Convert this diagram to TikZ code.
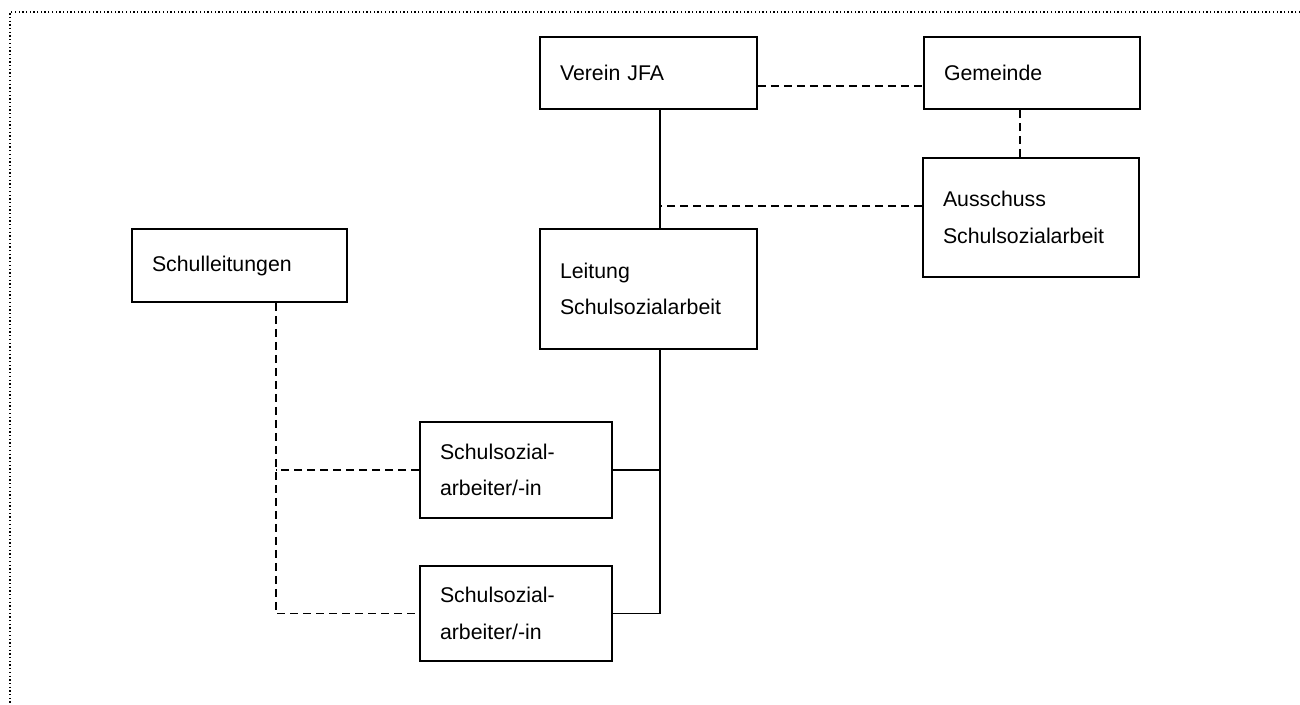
\documentclass[tikz,border=0pt]{standalone}
\usepackage{fontspec}
\setmainfont{Liberation Sans}
\usetikzlibrary{calc}
\tikzset{
    box/.style={draw, line width=1.6pt, align=left, inner xsep=20pt, inner ysep=0pt, font=\fontsize{21.3}{36.5}\selectfont},
    link/.style={line width=1.4pt},
    loose/.style={line width=1.4pt, dash pattern=on 8pt off 5pt}
}
\begin{document}
\begin{tikzpicture}[x=1pt,y=-1pt]
\useasboundingbox (0,0) rectangle (1300,704);
\draw[line width=1.3pt, dash pattern=on 1.3pt off 2.4pt] (1300,12) -- (10,12) -- (10,704);
\foreach \x/\y/\w/\h/\p/\t in {648.5/73/217/72/verein/{Verein JFA}, 1032/73/216/72/gem/{Gemeinde}, 1031/217.5/216/119/aus/{Ausschuss\\Schulsozialarbeit}, 648.5/289/217/120/leit/{Leitung\\Schulsozialarbeit}, 239.5/265.5/215/73/sl/{Schulleitungen}, 516/470/192/96/ssa1/{Schulsozial-\\arbeiter/-in}, 516/613.5/192/95/ssa2/{Schulsozial-\\arbeiter/-in}}{
    \node[box, minimum width=\w pt, minimum height=\h pt, text width=\w pt-40pt] (\p) at (\x,\y) {\t};
}
\coordinate (vl) at ([xshift=11.5pt]leit.north);
\coordinate (aw) at ([yshift=11.5pt]aus.west);
\coordinate (an) at ([xshift=-11pt]aus.north);
\coordinate (ls) at ([xshift=11.5pt]leit.south);
\coordinate (sls) at ([xshift=36.5pt]sl.south);
\draw[loose] ([yshift=-13pt]verein.east) -- ([yshift=-13pt]gem.west);
\draw[loose] (an) -- (an |- gem.south);
\draw[link] (vl |- verein.south) -- (vl);
\draw[loose] (aw) -- (aw -| vl);
\draw[link] (ls) |- (ssa2.east);
\draw[link] (ssa1.east) -- (ssa1.east -| ls);
\draw[loose] (sls) |- (ssa2.west);
\draw[loose] (ssa1.west) -- (ssa1.west -| sls);
\end{tikzpicture}
\end{document}
